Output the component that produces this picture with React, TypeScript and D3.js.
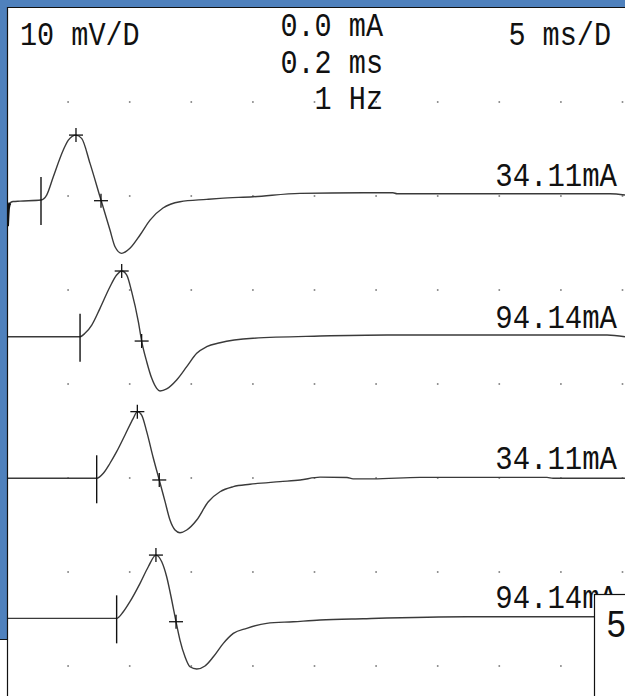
import React from 'react';
import * as d3 from 'd3';

const width = 625;
const height = 696;

// 5 ms per division, 10 mV per division
const timeTicks = [5, 10, 15, 20, 25, 30, 35, 40, 45, 50];
const voltTicks = [0, 10, 20, 30, 40, 50, 60];

const leftHeader = '10 mV/D';
const centerHeader = ['0.0 mA', '0.2 ms', '1 Hz'];
const rightHeader = '5 ms/D';
const pageNumber = '5';

// each trace: time (ms) and amplitude (mV) relative to its own baseline
const trace1T = [0.08, 0.16, 0.28, 0.53, 1.1, 2.8, 3.26, 3.8, 4.61, 5.02, 5.64, 6.1, 6.78, 7.59, 8.4, 8.81, 9.35, 10.02, 10.84, 11.65, 12.7, 14.08, 16.25, 17.33, 20.01, 23.82, 28.94, 31.37, 31.7, 48.99, 50.2];
const trace1V = [-2.77, -0.85, -0.32, -0.16, -0.11, 0, 0.53, 2.48, 5.32, 6.38, 6.91, 6.56, 3.9, 0.35, -3.19, -4.97, -5.67, -5.14, -3.72, -2.13, -0.85, -0.18, 0.07, 0.18, 0.35, 0.71, 0.78, 0.78, 0.67, 0.67, 0.53];

const trace2T = [0.12, 5.97, 6.37, 6.92, 7.59, 8.4, 8.94, 9.35, 9.76, 10.16, 10.7, 10.97, 11.38, 11.79, 12.19, 12.46, 13.0, 13.81, 14.63, 15.44, 16.25, 17.33, 20.01, 25.45, 30.89, 48.75, 50.2];
const trace2V = [0, 0, 0.36, 1.24, 3.02, 5.32, 6.56, 6.99, 6.56, 4.79, 1.6, -0.46, -2.66, -4.43, -5.49, -5.78, -5.56, -4.61, -3.19, -1.77, -1.06, -0.64, -0.17, 0.07, 0.18, 0.18, 0];

const trace3T = [0.12, 7.32, 7.86, 8.4, 8.94, 9.62, 10.29, 10.62, 10.97, 11.38, 11.92, 12.4, 12.87, 13.27, 13.68, 14.08, 14.63, 15.44, 16.38, 17.33, 18.41, 19.76, 22.2, 23.84, 25.45, 27.64, 28.13, 29.75, 33.56, 43.87, 44.36, 50.2];
const trace3V = [0, 0, 0.53, 1.6, 2.83, 4.61, 6.38, 7.09, 6.73, 4.96, 2.13, -0.18, -2.49, -4.44, -5.5, -5.79, -5.5, -4.44, -2.49, -1.43, -0.89, -0.64, -0.36, -0.18, 0.12, 0.08, -0.06, -0.06, 0.1, 0.1, 0, 0];

const trace4T = [0.12, 8.94, 9.48, 10.02, 10.84, 11.51, 12.13, 12.6, 13.0, 13.41, 13.76, 14.08, 14.49, 14.89, 15.44, 16.11, 16.79, 17.6, 18.41, 19.5, 21.12, 23.28, 25.45, 28.94, 37.38, 47.61, 50.2];
const trace4V = [0, 0, 0.7, 1.77, 3.72, 5.49, 6.73, 6.02, 4.43, 1.95, -0.36, -2.31, -4.09, -5.15, -5.39, -5.07, -4.09, -2.66, -1.6, -1.06, -0.53, -0.36, -0.18, -0.04, 0.17, 0.17, 0.17];

const traceOffsets = [49.57, 35.03, 19.97, 5.07];
const stimTimes = [2.8, 5.97, 7.32, 8.94];
const peakTimes = [5.64, 9.35, 10.62, 12.13];
const peakVolts = [6.91, 6.99, 7.09, 6.73];
const crossTimes = [7.67, 10.97, 12.4, 13.76];
const crossVolts = [-0.07, -0.46, -0.18, -0.36];
const traceLabels = ['34.11mA', '94.14mA', '34.11mA', '94.14mA'];

const traces = [
  { t: trace1T, v: trace1V },
  { t: trace2T, v: trace2V },
  { t: trace3T, v: trace3V },
  { t: trace4T, v: trace4V }
];

const blue = '#4f81bd';
const font = '"Liberation Mono", "DejaVu Sans Mono", monospace';

// tall, narrow monospace text like the instrument printout
const Label = ({ x, y, anchor = 'start', size = 28.5, children }: any) => (
  <text
    transform={`translate(${x},${y}) scale(1,1.14)`}
    textAnchor={anchor}
    fontFamily={font}
    fontSize={size}
    fill="#111"
  >
    {children}
  </text>
);

const App = () => {
  const x = d3.scaleLinear().domain([0, 50]).range([6.5, 622.5]);
  const y = d3.scaleLinear().domain([0, 70]).range([666, 8]);

  const line = d3
    .line<[number, number]>()
    .x((d) => x(d[0]))
    .y((d) => y(d[1]))
    .curve(d3.curveMonotoneX);

  const cross = (cx: number, cy: number, k: string) => (
    <g key={k} stroke="#111" strokeWidth={1.3}>
      <line x1={cx - 7} x2={cx + 7} y1={cy} y2={cy} />
      <line x1={cx} x2={cx} y1={cy - 7} y2={cy + 7} />
    </g>
  );

  return (
    <svg
      width={width}
      height={height}
      style={{ position: 'absolute', left: 0, top: 0, background: '#fff' }}
    >
      <rect x={0} y={0} width={width} height={height} fill="#fff" />

      {/* grid dots */}
      <g fill="#777">
        {timeTicks.map((t) =>
          voltTicks.map((v) => (
            <rect key={`${t}-${v}`} x={x(t) - 0.8} y={y(v) - 0.8} width={1.6} height={1.6} />
          ))
        )}
      </g>

      {/* header */}
      <Label x={20} y={45}>{leftHeader}</Label>
      {centerHeader.map((s, i) => (
        <Label key={s} x={383} y={36 + i * 36.5} anchor="end">
          {s}
        </Label>
      ))}
      <Label x={611} y={45} anchor="end">{rightHeader}</Label>

      {/* traces */}
      {traces.map((tr, i) => {
        const pts = tr.t.map((t, j) => [t, tr.v[j] + traceOffsets[i]] as [number, number]);
        const stimX = x(stimTimes[i]);
        const baseY = y(traceOffsets[i]);
        const tailY = y(traceOffsets[i] + tr.v[tr.v.length - 1]);
        return (
          <g key={i}>
            <path d={line(pts) ?? ''} fill="none" stroke="#3a3a3a" strokeWidth={1.4} />
            {i === 0 && (
              <path d={line(pts.slice(0, 3)) ?? ''} fill="none" stroke="#111" strokeWidth={3} />
            )}
            <line x1={stimX} x2={stimX} y1={baseY - 23} y2={baseY + 25} stroke="#111" strokeWidth={1.4} />
            {cross(x(peakTimes[i]), y(peakVolts[i] + traceOffsets[i]), `p${i}`)}
            {cross(x(crossTimes[i]), y(crossVolts[i] + traceOffsets[i]), `c${i}`)}
            <Label x={617} y={tailY - 9} anchor="end" size={29}>
              {traceLabels[i]}
            </Label>
          </g>
        );
      })}

      {/* window frame */}
      <rect x={0} y={0} width={width} height={7} fill={blue} />
      <rect x={0} y={0} width={7} height={639} fill={blue} />
      <line x1={0} x2={7} y1={639.5} y2={639.5} stroke="#111" strokeWidth={1} />
      <line x1={7.5} x2={7.5} y1={7} y2={height} stroke="#111" strokeWidth={1.2} />
      <line x1={7} x2={width} y1={7.5} y2={7.5} stroke="#111" strokeWidth={1.2} />

      {/* page box */}
      <rect x={594.5} y={594.5} width={40} height={120} fill="#fff" stroke="#111" strokeWidth={1.2} />
      <Label x={606} y={637} size={34}>
        {pageNumber}
      </Label>
    </svg>
  );
};

export default App;
